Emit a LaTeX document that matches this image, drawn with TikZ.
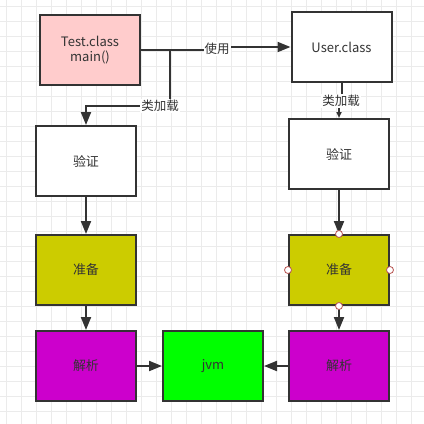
\documentclass[tikz,border=0pt]{standalone}
\usepackage{fontspec}
\setmainfont{Noto Sans CJK SC}
\usetikzlibrary{arrows.meta}
\definecolor{stk}{HTML}{333333}
\definecolor{gridc}{HTML}{EBEBEB}
\definecolor{pinkf}{HTML}{FFCCCC}
\definecolor{yelf}{HTML}{CCCC00}
\definecolor{magf}{HTML}{CC00CC}
\definecolor{grnf}{HTML}{00FF00}
\definecolor{ptc}{HTML}{B85450}
\tikzset{
  box/.style={draw=stk, line width=2pt, rectangle, minimum width=100pt, minimum height=70pt, inner sep=0pt, align=center, text=stk, font=\fontsize{13}{15}\selectfont},
  conn/.style={draw=stk, line width=2pt, -{Triangle[length=13pt,width=10pt]}},
  lbl/.style={fill=white, inner sep=1pt, text=stk, font=\fontsize{12.5}{14}\selectfont},
  cpt/.style={circle, draw=ptc, fill=white, line width=0.8pt, minimum size=7pt, inner sep=0pt}
}
\begin{document}
\begin{tikzpicture}[x=1pt,y=-1pt]
\useasboundingbox (0,0) rectangle (424,424);
\fill[white] (0,0) rectangle (424,424);
\foreach \g in {6,21,...,421} {
  \draw[gridc, line width=1pt] (\g,0) -- (\g,424);
  \draw[gridc, line width=1pt] (0,\g) -- (424,\g);
}
\node[box, fill=pinkf] (test) at (90,50) {Test.class\\main()};
\node[box, fill=white] (user) at (341.5,47) {User.class};
\node[box, fill=white] (v1) at (86,161) {验证};
\node[box, fill=white] (v2) at (339,154) {验证};
\node[box, fill=yelf] (p1) at (86,270) {准备};
\node[box, fill=yelf] (p2) at (339,270) {准备};
\node[box, fill=magf] (j1) at (86,366) {解析};
\node[box, fill=grnf] (jvm) at (213,366) {jvm};
\node[box, fill=magf] (j2) at (339,366) {解析};

\coordinate (a1) at (217,50);
\coordinate (a2) at (217,47);
\coordinate (b1) at (170,106);
\coordinate (c1) at (341.5,101);
\coordinate (c2) at (339,101);

\draw[conn] (test.east |- a1) -- (a1) -- (a2) -- (user.west |- a2);
\node[lbl] (l1) at (217,49) {使用};
\draw[conn] (test.east |- a1) -| (b1) -| (v1.north);
\node[lbl] (l2) at (160,106) {类加载};
\draw[draw=stk, line width=2pt, -{Triangle[length=6pt,width=5pt]}] (user.south) -- (c1) -- (c2) -- (v2.north);
\node[lbl] (l3) at (341,101) {类加载};

\draw[conn] (v1) -- (p1);
\draw[conn] (p1) -- (j1);
\draw[conn] (j1) -- (jvm);
\draw[conn] (v2) -- (p2);
\draw[conn] (p2) -- (j2);
\draw[conn] (j2) -- (jvm);

\node[cpt] (t1) at (p2.north) {};
\node[cpt] (t2) at (p2.south) {};
\node[cpt] (t3) at (p2.west) {};
\node[cpt] (t4) at (p2.east) {};
\end{tikzpicture}
\end{document}
